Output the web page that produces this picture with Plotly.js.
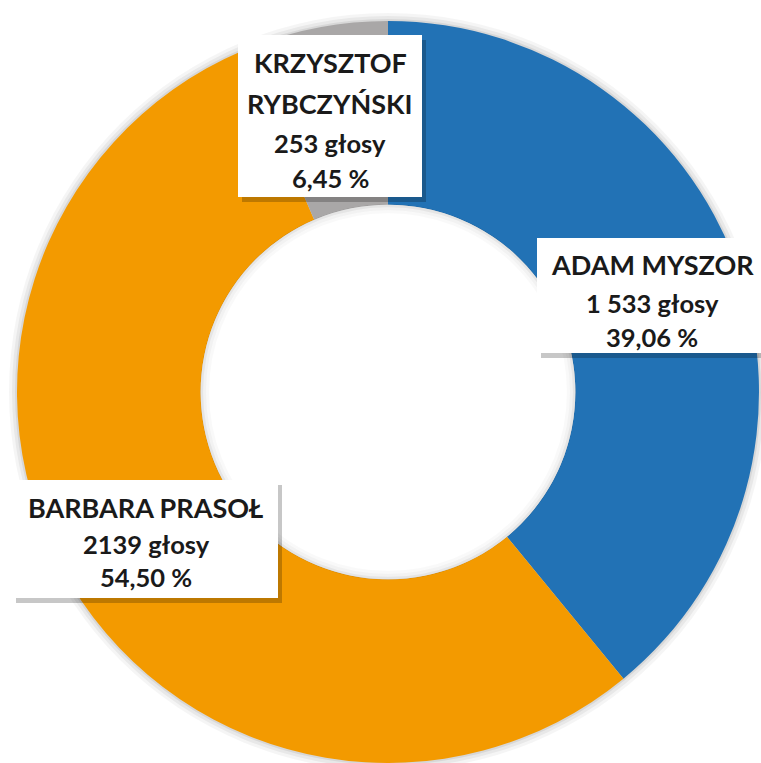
<!DOCTYPE html>
<html>
<head>
<meta charset="utf-8">
<script src="https://cdn.plot.ly/plotly-3.0.1.min.js"></script>
<style>html,body{margin:0;padding:0;background:#fff;}#chart{width:761px;height:763px;}</style>
</head>
<body>
<div id="chart"></div>
<script>
// ---- data ----
const candidates = ['ADAM MYSZOR', 'BARBARA PRASOŁ', 'KRZYSZTOF RYBCZYŃSKI'];
const votes = [1533, 2139, 253];
const voteLabels = ['1 533 głosy', '2139 głosy', '253 głosy'];
const pctLabels = ['39,06 %', '54,50 %', '6,45 %'];
const nameLines = [['ADAM MYSZOR'], ['BARBARA PRASOŁ'], ['KRZYSZTOF', 'RYBCZYŃSKI']];
const colors = ['#2272B5', '#F39A00', '#A9A7A7'];

// ---- layout helpers (pixel -> paper) ----
const W = 761, H = 763;
const px = x => x / W;
const py = y => 1 - y / H;
const cx = 388, cy = 392, R = 371, holeFrac = 0.505;

// label boxes: [left, top, right, bottom] and line centre y's, text centre x
const boxes = [
  {box: [537, 238, 770, 353], x: 652, ys: [264, 303, 337]},
  {box: [12, 480, 278, 598], x: 146, ys: [507, 544, 577]},
  {box: [238, 35, 422, 197], x: 330, ys: [63, 103, 143, 178]}
];

const shapes = [];
// soft outer shadow of the ring
[[8, 0.04], [5, 0.05], [2, 0.07]].forEach(([d, o]) => {
  shapes.push({type: 'circle', xref: 'paper', yref: 'paper', layer: 'below',
    x0: px(cx - R - d), x1: px(cx + R + d), y0: py(cy + R + d), y1: py(cy - R - d),
    fillcolor: 'rgba(0,0,0,' + o + ')', line: {width: 0}});
});
// white hole and its soft inner shadow
const rh = R * holeFrac;
shapes.push({type: 'circle', xref: 'paper', yref: 'paper', layer: 'above',
  x0: px(cx - rh), x1: px(cx + rh), y0: py(cy + rh), y1: py(cy - rh),
  fillcolor: '#ffffff', line: {width: 0}});
[[1, 0.10], [4, 0.05], [7, 0.025]].forEach(([d, o]) => {
  shapes.push({type: 'circle', xref: 'paper', yref: 'paper', layer: 'above',
    x0: px(cx - rh + d), x1: px(cx + rh - d), y0: py(cy + rh - d), y1: py(cy - rh + d),
    fillcolor: 'rgba(0,0,0,0)', line: {width: 3, color: 'rgba(0,0,0,' + o + ')'}});
});

const annotations = [];
boxes.forEach((b, i) => {
  const [l, t, r, bt] = b.box;
  // shadow
  shapes.push({type: 'rect', xref: 'paper', yref: 'paper', layer: 'above',
    x0: px(l + 4), x1: px(r + 4), y0: py(bt + 5), y1: py(t + 5),
    fillcolor: 'rgba(0,0,0,0.22)', line: {width: 0}});
  shapes.push({type: 'rect', xref: 'paper', yref: 'paper', layer: 'above',
    x0: px(l), x1: px(r), y0: py(bt), y1: py(t),
    fillcolor: '#ffffff', line: {width: 0}});
  const lines = nameLines[i].concat([voteLabels[i], pctLabels[i]]);
  lines.forEach((txt, j) => {
    const isName = j < nameLines[i].length;
    annotations.push({xref: 'paper', yref: 'paper', x: px(b.x), y: py(b.ys[j]),
      xanchor: 'center', yanchor: 'middle', showarrow: false, text: txt,
      font: {family: 'Lato, "Open Sans", sans-serif', size: isName ? 27 : 25.5, weight: 700, color: '#1a1a1a'}});
  });
});

const trace = {
  type: 'pie',
  labels: candidates,
  values: votes,
  sort: false,
  direction: 'clockwise',
  rotation: 0,
  hole: holeFrac,
  marker: {colors: colors, line: {width: 0}},
  textinfo: 'none',
  hoverinfo: 'none',
  showlegend: false,
  domain: {x: [px(cx - R), px(cx + R)], y: [py(cy + R), py(cy - R)]}
};

const layout = {
  width: W, height: H,
  margin: {l: 0, r: 0, t: 0, b: 0},
  paper_bgcolor: '#ffffff',
  plot_bgcolor: '#ffffff',
  showlegend: false,
  shapes: shapes,
  annotations: annotations
};

Plotly.newPlot('chart', [trace], layout, {displayModeBar: false, staticPlot: true});
</script>
</body>
</html>
